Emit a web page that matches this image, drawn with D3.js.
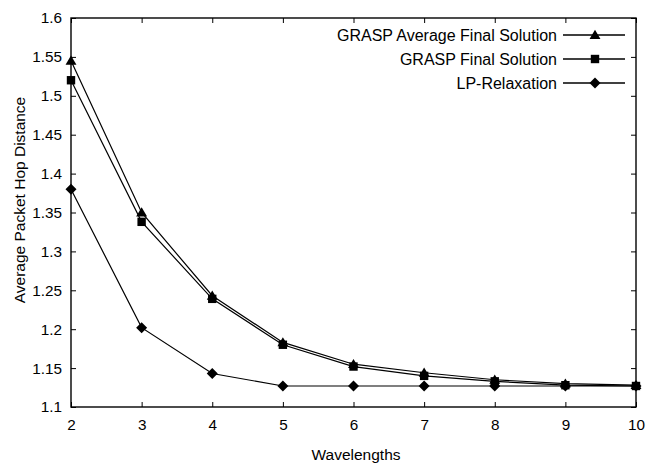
<!DOCTYPE html>
<html>
<head>
<meta charset="utf-8">
<script src="https://cdn.jsdelivr.net/npm/d3@7"></script>
<style>
  body { margin: 0; background: #fff; }
  svg text { font-family: "Liberation Sans", Arial, sans-serif; fill: #000; }
</style>
</head>
<body>
<div id="chart"></div>
<script>
// data
var wavelengths = [2, 3, 4, 5, 6, 7, 8, 9, 10];
var graspAvg   = [1.545, 1.350, 1.243, 1.183, 1.155, 1.144, 1.135, 1.130, 1.128];
var graspFinal = [1.520, 1.338, 1.239, 1.180, 1.152, 1.140, 1.133, 1.128, 1.127];
var lpRelax    = [1.380, 1.202, 1.143, 1.127, 1.127, 1.127, 1.127, 1.127, 1.127];
var yTicks = [1.1, 1.15, 1.2, 1.25, 1.3, 1.35, 1.4, 1.45, 1.5, 1.55, 1.6];
var seriesNames = ["GRASP Average Final Solution", "GRASP Final Solution", "LP-Relaxation"];

// marker shapes (gnuplot-ish)
var triangle = {draw: function(ctx, size) {
    var r = 5.2;
    ctx.moveTo(0, -r); ctx.lineTo(r * 1.05, r * 0.75); ctx.lineTo(-r * 1.05, r * 0.75); ctx.closePath();
}};
var square = {draw: function(ctx, size) {
    var r = 4.2;
    ctx.rect(-r, -r, 2 * r, 2 * r);
}};
var diamond = {draw: function(ctx, size) {
    var r = 5.5;
    ctx.moveTo(0, -r); ctx.lineTo(r, 0); ctx.lineTo(0, r); ctx.lineTo(-r, 0); ctx.closePath();
}};
var seriesSymbols = [triangle, square, diamond];

var W = 646, H = 466;
var margin = {top: 18, right: 10, bottom: 59, left: 71};
var width = 636 - margin.left,
    height = 407 - margin.top;

var svg = d3.select("#chart").append("svg")
    .attr("width", W)
    .attr("height", H);

var g = svg.append("g")
    .attr("transform", `translate(${margin.left},${margin.top})`);

var xScale = d3.scaleLinear().domain([2, 10]).range([0, width]);
var yScale = d3.scaleLinear().domain([1.1, 1.6]).range([height, 0]);

// axes: ticks inward, mirrored on top/right
var fmt = d => String(+d.toFixed(2));
var xAxis = d3.axisBottom(xScale).tickValues(wavelengths).tickSizeInner(-5).tickSizeOuter(0).tickPadding(12);
var yAxis = d3.axisLeft(yScale).tickValues(yTicks).tickSizeInner(-5).tickSizeOuter(0).tickPadding(9).tickFormat(fmt);

var gx = g.append("g").attr("transform", `translate(0,${height})`).call(xAxis);
var gy = g.append("g").call(yAxis);
var gxt = g.append("g").call(d3.axisTop(xScale).tickValues(wavelengths).tickSizeInner(-5).tickSizeOuter(0).tickFormat(""));
var gyr = g.append("g").attr("transform", `translate(${width},0)`)
    .call(d3.axisRight(yScale).tickValues(yTicks).tickSizeInner(-5).tickSizeOuter(0).tickFormat(""));

[gx, gy, gxt, gyr].forEach(a => {
    a.selectAll(".domain").remove();
    a.selectAll("line").attr("stroke", "#000").attr("stroke-width", 1);
    a.selectAll("text").attr("font-size", 15.3).attr("font-family", "Liberation Sans, Arial, sans-serif");
});

g.append("rect")
    .attr("width", width).attr("height", height)
    .attr("fill", "none").attr("stroke", "#000").attr("stroke-width", 1.4);

// axis titles
svg.append("text")
    .attr("x", 356)
    .attr("y", 460)
    .attr("text-anchor", "middle")
    .attr("font-size", 15.5)
    .text("Wavelengths");
svg.append("text")
    .attr("transform", `translate(25,200) rotate(-90)`)
    .attr("text-anchor", "middle")
    .attr("font-size", 15.5)
    .text("Average Packet Hop Distance");

// series
var allSeries = [graspAvg, graspFinal, lpRelax];
var line = d3.line()
    .x((d, i) => xScale(wavelengths[i]))
    .y(d => yScale(d));

allSeries.forEach((vals, s) => {
    g.append("path")
        .datum(vals)
        .attr("d", line)
        .attr("fill", "none")
        .attr("stroke", "#000")
        .attr("stroke-width", 1.2);
});
allSeries.forEach((vals, s) => {
    var sym = d3.symbol().type(seriesSymbols[s]);
    g.selectAll("path.m" + s).data(vals).enter().append("path")
        .attr("class", "m" + s)
        .attr("d", sym)
        .attr("transform", (d, i) => `translate(${xScale(wavelengths[i])},${yScale(d)})`)
        .attr("fill", "#000");
});

// legend
var legend = svg.append("g");
var legendY = [35, 59, 83];
seriesNames.forEach((name, s) => {
    var y = legendY[s];
    legend.append("text")
        .attr("x", 557).attr("y", y + 5.5)
        .attr("text-anchor", "end")
        .attr("font-size", 16)
        .text(name);
    legend.append("line")
        .attr("x1", 563).attr("x2", 625)
        .attr("y1", y).attr("y2", y)
        .attr("stroke", "#000").attr("stroke-width", 1.3);
    legend.append("path")
        .attr("d", d3.symbol().type(seriesSymbols[s]))
        .attr("transform", `translate(595,${y})`)
        .attr("fill", "#000");
});
</script>
</body>
</html>
